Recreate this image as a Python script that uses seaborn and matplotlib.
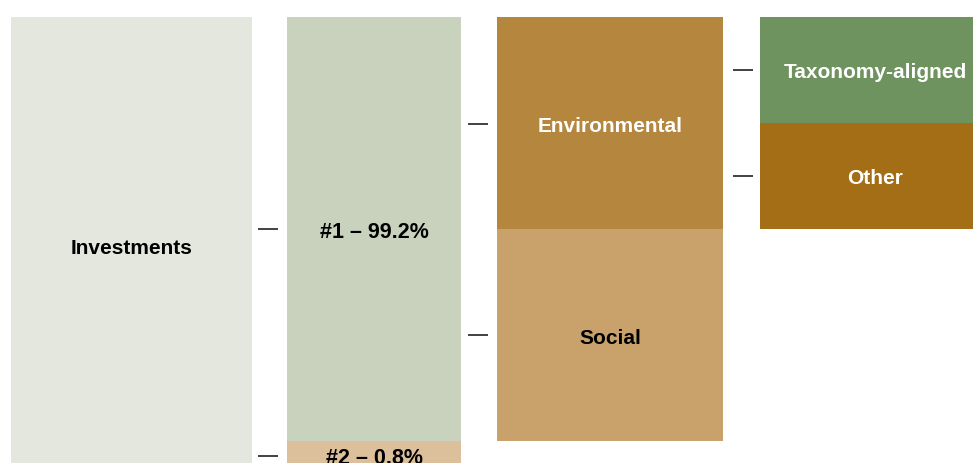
import matplotlib
matplotlib.use("Agg")
import matplotlib.pyplot as plt
import seaborn as sns

sns.set_theme(style="white")
plt.rcParams["font.family"] = ["Liberation Sans", "DejaVu Sans"]

# Asset allocation tree
investments_label = "Investments"
level1_labels = ["#1 – 99.2%", "#2 – 0.8%"]
level1_shares = [99.2, 0.8]
level2_labels = ["Environmental", "Social"]
level3_labels = ["Taxonomy-aligned", "Other"]

colors = {
    "Investments": "#E4E7DE",
    "#1": "#C9D2BD",
    "#2": "#DCC09C",
    "Environmental": "#B5863E",
    "Social": "#C9A16A",
    "Taxonomy-aligned": "#6F935F",
    "Other": "#A46E16",
}
text_colors = {
    "Investments": "black", "#1": "black", "#2": "black",
    "Environmental": "white", "Social": "black",
    "Taxonomy-aligned": "white", "Other": "white",
}

# layout (canvas units)
top = 17
col_x = [11, 287, 497, 760]
col_w = [241, 174, 226, 230]
tick_gap = [0, 9, 9, 7]
h1 = 424            # height of the #1 block
h2 = 30             # height of the #2 block (not to scale)
tick_len = 20

fig = plt.figure(figsize=(9.73, 4.63), dpi=100)
ax = fig.add_axes([0, 0, 1, 1])
ax.set_xlim(0, 973)
ax.set_ylim(463, 0)
ax.axis("off")


def block(col, y0, h, key, text, size=15):
    ax.bar(col_x[col], h, width=col_w[col], bottom=y0, align="edge",
           color=colors[key], edgecolor="none", linewidth=0)
    ax.text(col_x[col] + col_w[col] / 2, y0 + h / 2 + 3, text,
            ha="center", va="center", fontsize=size, fontweight="bold",
            color=text_colors[key])


def tick(col, y):
    x1 = col_x[col] - tick_gap[col]
    ax.plot([x1 - tick_len, x1], [y, y], color="#333333", lw=1.3,
            solid_capstyle="butt")


# column 0: all investments
total_h = h1 + h2 + 2
block(0, top, total_h, "Investments", investments_label)

# column 1: #1 / #2
block(1, top, h1, "#1", level1_labels[0], size=15.5)
block(1, top + h1, h2, "#2", level1_labels[1], size=15.5)
tick(1, top + h1 / 2)
tick(1, top + h1 + h2 / 2)

# column 2: environmental / social (split of #1)
half = h1 / 2
block(2, top, half, "Environmental", level2_labels[0])
block(2, top + half, half, "Social", level2_labels[1])
tick(2, top + half / 2 + 1)
tick(2, top + half * 1.5)

# column 3: taxonomy-aligned / other (split of environmental)
quarter = half / 2
block(3, top, quarter, "Taxonomy-aligned", level3_labels[0])
block(3, top + quarter, quarter, "Other", level3_labels[1])
tick(3, top + quarter / 2)
tick(3, top + quarter * 1.5)

fig.savefig("out.png", dpi=100)
